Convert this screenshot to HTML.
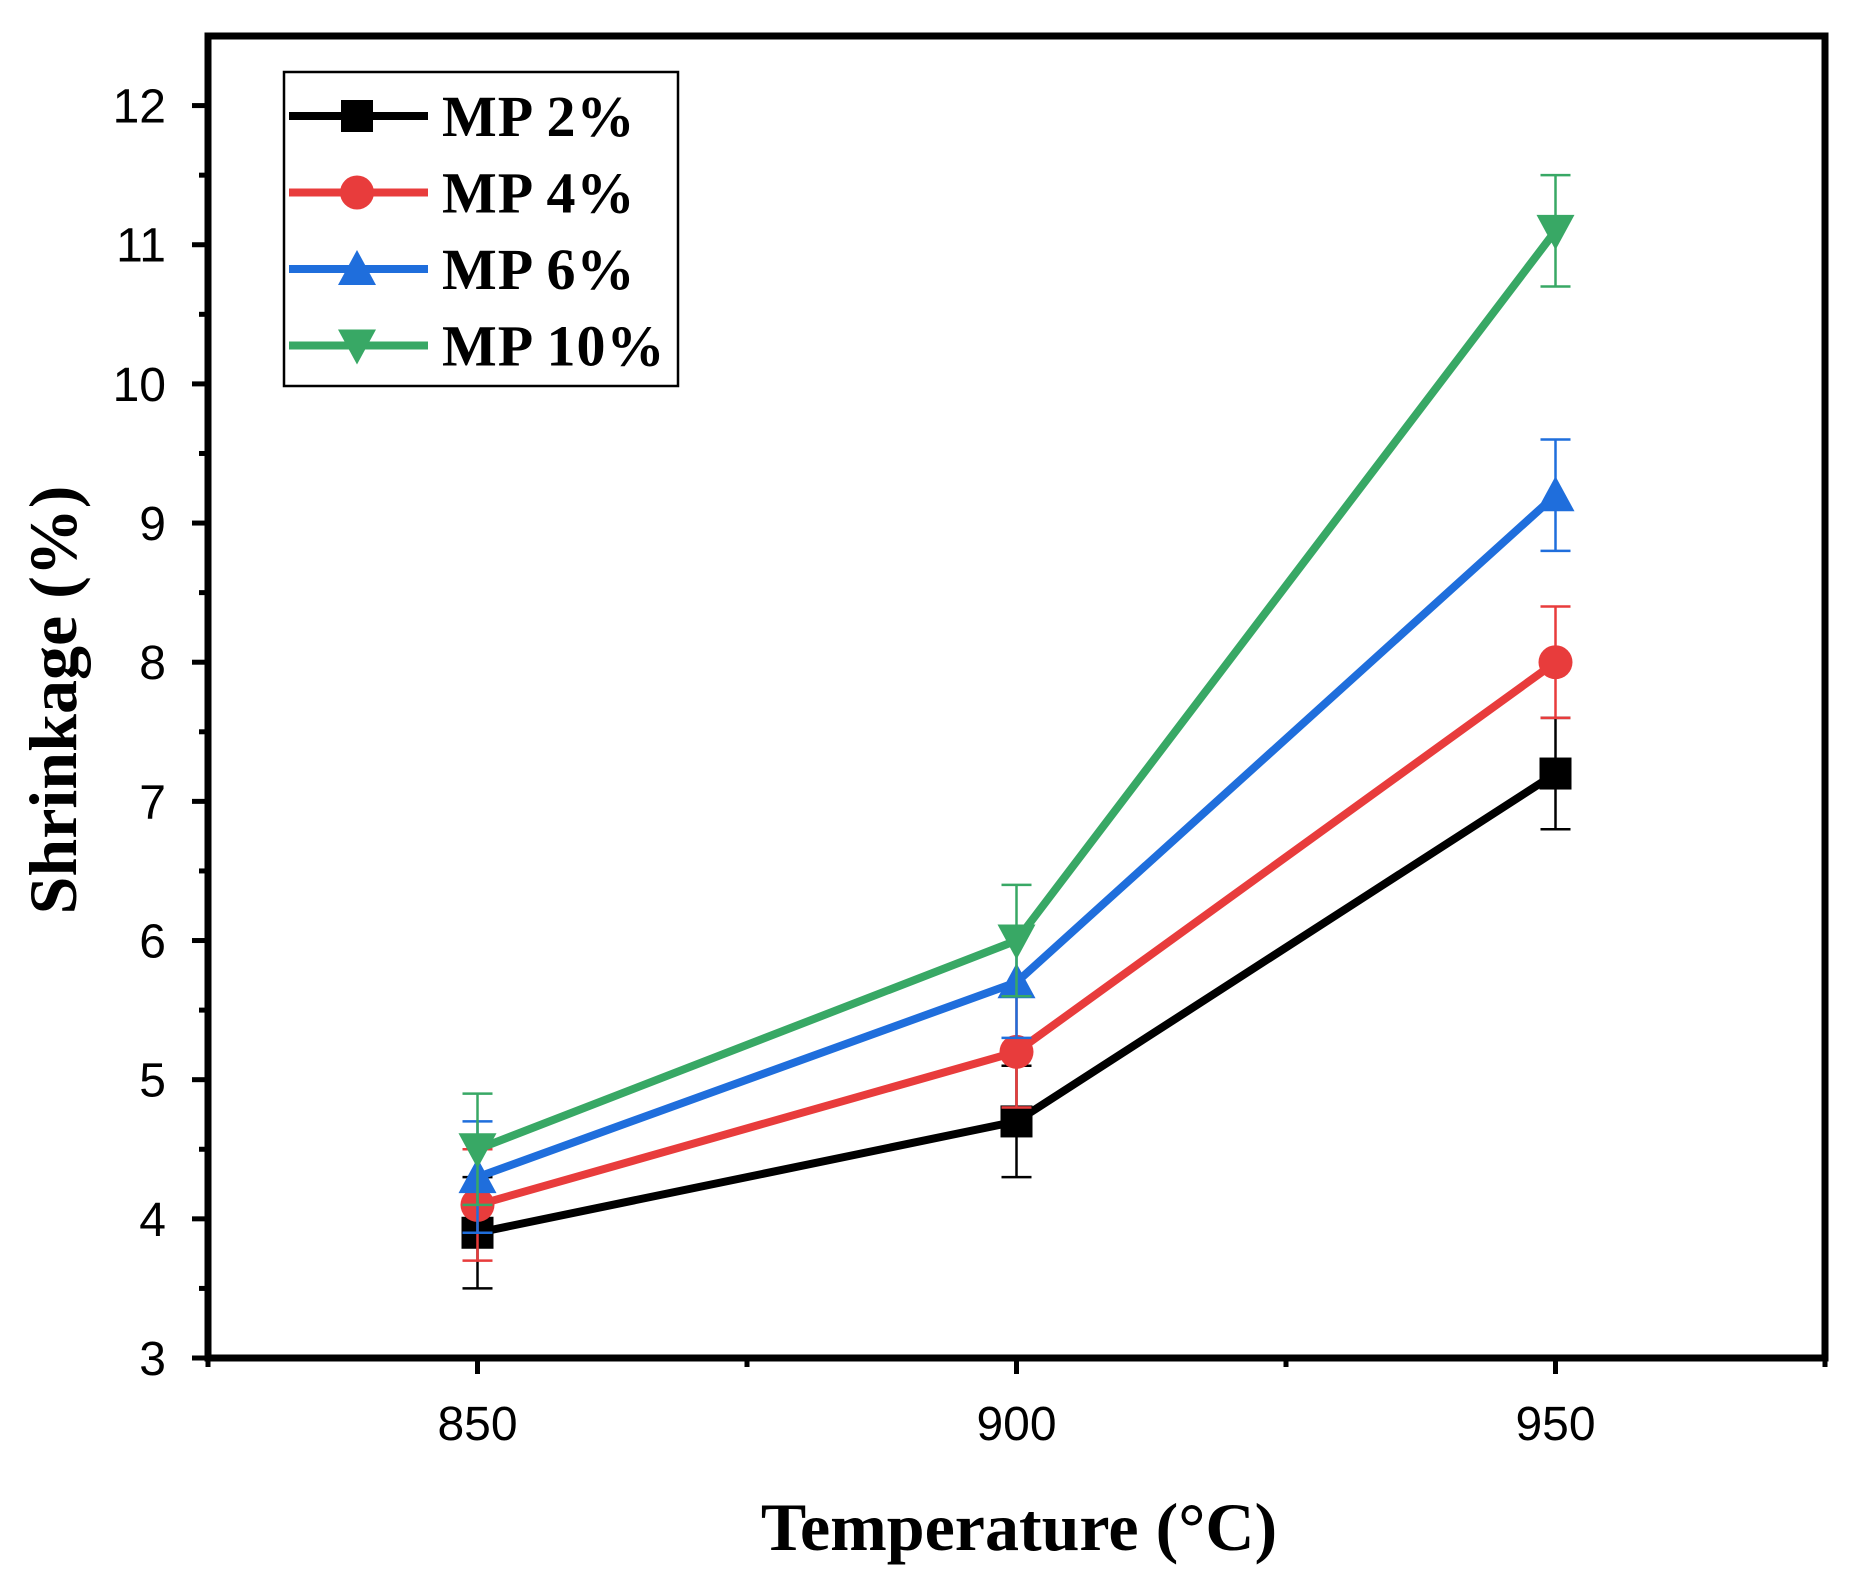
<!DOCTYPE html>
<html><head><meta charset="utf-8"><style>
html,body{margin:0;padding:0;background:#fff;}
svg{display:block;}
</style></head><body>
<svg id="chart" width="1855" height="1590" xmlns="http://www.w3.org/2000/svg"></svg>
<script>
const categories = [850, 900, 950];
const mp2 = [3.9, 4.7, 7.2];
const mp4 = [4.1, 5.2, 8.0];
const mp6 = [4.3, 5.7, 9.2];
const mp10 = [4.5, 6.0, 11.1];
const err2 = [0.4, 0.4, 0.4];
const err4 = [0.4, 0.4, 0.4];
const err6 = [0.4, 0.4, 0.4];
const err10 = [0.4, 0.4, 0.4];
const yTicks = [3,4,5,6,7,8,9,10,11,12];
const xTicks = [850, 900, 950];
const seriesNames = ["MP 2%", "MP 4%", "MP 6%", "MP 10%"];

const svg = document.getElementById('chart');
const NS = 'http://www.w3.org/2000/svg';
const L=208, R=1825, T=36, B=1358;
const xMin=825, xMax=975, yMin=3, yMax=12.5;
const xs = v => L + (v-xMin)/(xMax-xMin)*(R-L);
const ys = v => B - (v-yMin)/(yMax-yMin)*(B-T);
function mk(tag, attrs, parent){ const e=document.createElementNS(NS,tag); for(const k in attrs) e.setAttribute(k,attrs[k]); (parent||svg).appendChild(e); return e; }

yTicks.forEach(t=>{
  const g=mk('g',{});
  
  
  mk('line',{x1:L-16,x2:L,y1:ys(t),y2:ys(t),stroke:'#000','stroke-width':5},g);
  const tx=mk('text',{x:L-42,y:ys(t)+17,'text-anchor':'end','font-family':'Liberation Sans, sans-serif','font-size':48},g);
  tx.textContent=t;
  if(t<12){ mk('line',{x1:L-9,x2:L,y1:ys(t+0.5),y2:ys(t+0.5),stroke:'#000','stroke-width':5},g); }
});
xTicks.forEach(t=>{
  const g=mk('g',{});
  
  
  mk('line',{x1:xs(t),x2:xs(t),y1:B,y2:B+16,stroke:'#000','stroke-width':5},g);
  const tx=mk('text',{x:xs(t),y:B+82,'text-anchor':'middle','font-family':'Liberation Sans, sans-serif','font-size':48},g);
  tx.textContent=t;
});
[825,875,925,975].forEach(t=>{ mk('line',{x1:xs(t),x2:xs(t),y1:B,y2:B+9,stroke:'#000','stroke-width':5}); });

const fr=mk('rect',{x:L,y:T,width:R-L,height:B-T,fill:'none',stroke:'#000','stroke-width':7});



const series=[
 {vals:mp2,err:err2,color:'#000000',marker:'square'},
 {vals:mp4,err:err4,color:'#e83c3c',marker:'circle'},
 {vals:mp6,err:err6,color:'#1f6edc',marker:'up'},
 {vals:mp10,err:err10,color:'#38a865',marker:'down'}
];
function marker(type,x,y,color,g){
  const s=16;
  if(type==='square') return mk('rect',{x:x-s,y:y-s,width:2*s,height:2*s,fill:color},g);
  if(type==='circle') return mk('circle',{cx:x,cy:y,r:s+1,fill:color},g);
  if(type==='up') return mk('polygon',{points:`${x},${y-s-3} ${x-s-3},${y+s} ${x+s+3},${y+s}`,fill:color},g);
  return mk('polygon',{points:`${x},${y+s+3} ${x-s-3},${y-s} ${x+s+3},${y-s}`,fill:color},g);
}
series.forEach((s,i)=>{
  const g=mk('g',{});
  
  
  s.vals.forEach((v,j)=>{
    const x=xs(categories[j]);
    const eb=mk('path',{d:`M${x},${ys(v-s.err[j])}V${ys(v+s.err[j])}M${x-15},${ys(v-s.err[j])}H${x+15}M${x-15},${ys(v+s.err[j])}H${x+15}`,stroke:s.color,'stroke-width':2.5,fill:'none'},g);
    
    
  });
  const pts=s.vals.map((v,j)=>xs(categories[j])+','+ys(v)).join(' ');
  const ln=mk('polyline',{points:pts,fill:'none',stroke:s.color,'stroke-width':8,'stroke-linejoin':'round'},g);
  
  
  s.vals.forEach((v,j)=>{
    const m=marker(s.marker,xs(categories[j]),ys(v),s.color,g);
    
    
  });
});

const lg=mk('g',{});


mk('rect',{x:284,y:72,width:394,height:314,fill:'#fff',stroke:'#000','stroke-width':2.5},lg);
series.forEach((s,i)=>{
  const y=116+i*76.5;
  const e=mk('g',{},lg);
  
  
  mk('line',{x1:289,x2:428,y1:y,y2:y,stroke:s.color,'stroke-width':8},e);
  marker(s.marker,357,y,s.color,e);
  const t=mk('text',{x:442,y:y+20,'font-family':'Liberation Serif, serif','font-weight':'bold','font-size':58,'letter-spacing':1},e);
  t.textContent=seriesNames[i];
});

const xt=mk('text',{x:1019,y:1550,'text-anchor':'middle','font-family':'Liberation Serif, serif','font-weight':'bold','font-size':68});
xt.textContent='Temperature (°C)';


const yt=mk('text',{x:0,y:0,'text-anchor':'middle','font-family':'Liberation Serif, serif','font-weight':'bold','font-size':68,transform:'translate(76,700) rotate(-90)'});
yt.textContent='Shrinkage (%)';


</script>
</body></html>
